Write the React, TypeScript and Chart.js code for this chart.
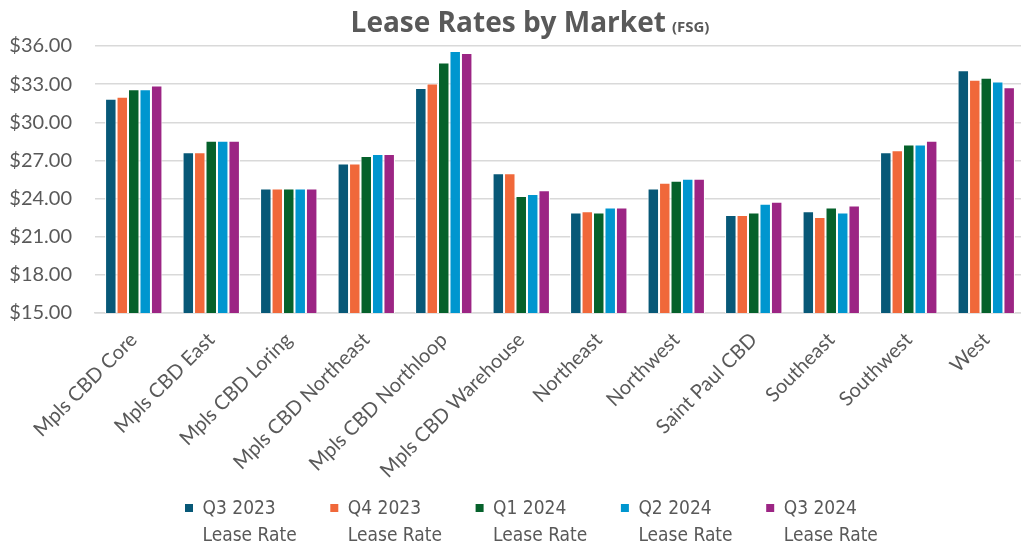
import React, { useEffect, useRef } from "react";
import { Chart, registerables } from "chart.js";

Chart.register(...registerables);

const categories = [
  "Mpls CBD Core",
  "Mpls CBD East",
  "Mpls CBD Loring",
  "Mpls CBD Northeast",
  "Mpls CBD Northloop",
  "Mpls CBD Warehouse",
  "Northeast",
  "Northwest",
  "Saint Paul CBD",
  "Southeast",
  "Southwest",
  "West",
];

const seriesNames = [
  ["Q3 2023", "Lease Rate"],
  ["Q4 2023", "Lease Rate"],
  ["Q1 2024", "Lease Rate"],
  ["Q2 2024", "Lease Rate"],
  ["Q3 2024", "Lease Rate"],
];

const q3_2023 = [31.85, 27.65, 24.8, 26.75, 32.7, 26.0, 22.9, 24.8, 22.7, 23.0, 27.65, 34.1];
const q4_2023 = [32.0, 27.65, 24.8, 26.75, 33.05, 26.0, 23.0, 25.25, 22.7, 22.55, 27.8, 33.35];
const q1_2024 = [32.6, 28.55, 24.8, 27.35, 34.7, 24.2, 22.9, 25.4, 22.9, 23.3, 28.25, 33.5];
const q2_2024 = [32.6, 28.55, 24.8, 27.5, 35.6, 24.35, 23.3, 25.55, 23.6, 22.9, 28.25, 33.2];
const q3_2024 = [32.9, 28.55, 24.8, 27.5, 35.45, 24.65, 23.3, 25.55, 23.75, 23.45, 28.55, 32.75];

const seriesValues = [q3_2023, q4_2023, q1_2024, q2_2024, q3_2024];
const seriesColors = ["#075877", "#F0683A", "#05612B", "#0096CF", "#9C2584"];

const yMin = 15;
const yMax = 36;
const yStep = 3;

const TEXT_COLOR = "#595959";
const FONT = "Lato, 'Liberation Sans', sans-serif";
const LEGEND_FONT = "19px 'DejaVu Sans Condensed', 'DejaVu Sans', sans-serif";

const titlePlugin = {
  id: "customTitle",
  afterDraw(chart: any) {
    const ctx = chart.ctx;
    ctx.save();
    const main = "Lease Rates by Market";
    const sub = "(FSG)";
    ctx.fillStyle = TEXT_COLOR;
    ctx.textBaseline = "alphabetic";
    ctx.textAlign = "left";
    ctx.font = "bold 28px 'Open Sans', sans-serif";
    const w1 = ctx.measureText(main).width;
    ctx.font = "bold 15px 'Open Sans', sans-serif";
    const w2 = ctx.measureText(sub).width;
    const gap = 6;
    const cx = 530;
    const x0 = cx - (w1 + gap + w2) / 2;
    ctx.font = "bold 28px 'Open Sans', sans-serif";
    ctx.fillText(main, x0, 32);
    ctx.font = "bold 15px 'Open Sans', sans-serif";
    ctx.fillText(sub, x0 + w1 + gap, 32);
    ctx.restore();
  },
};

const legendPlugin = {
  id: "customLegend",
  afterDraw(chart: any) {
    const ctx = chart.ctx;
    ctx.save();
    ctx.font = LEGEND_FONT;
    ctx.textAlign = "left";
    ctx.textBaseline = "alphabetic";
    const startX = 185;
    const step = 145.3;
    chart.data.datasets.forEach((ds: any, i: number) => {
      const bx = startX + i * step;
      ctx.fillStyle = ds.backgroundColor;
      ctx.fillRect(bx, 504, 8, 8);
      ctx.fillStyle = TEXT_COLOR;
      const lines = seriesNames[i];
      ctx.fillText(lines[0], bx + 17.5, 514);
      ctx.fillText(lines[1], bx + 17.5, 541);
    });
    ctx.restore();
  },
};

export default function App() {
  const canvasRef = useRef<HTMLCanvasElement | null>(null);

  useEffect(() => {
    const canvas = canvasRef.current;
    if (!canvas) return;
    const chart = new Chart(canvas, {
      type: "bar",
      data: {
        labels: categories,
        datasets: seriesValues.map((vals, i) => ({
          label: seriesNames[i].join(" "),
          data: vals,
          backgroundColor: seriesColors[i],
          borderColor: "#FFFFFF",
          borderWidth: 1,
          categoryPercentage: 0.74,
          barPercentage: 1.0,
        })),
      },
      options: {
        responsive: false,
        animation: false,
        layout: { padding: { top: 46, left: 0, right: 5, bottom: 0 } },
        plugins: {
          title: { display: false },
          tooltip: { enabled: false },
          legend: { display: false },
        },
        scales: {
          x: {
            grid: { display: false, drawTicks: false },
            border: { display: true, color: "#D9D9D9", width: 1.5 },
            ticks: {
              color: TEXT_COLOR,
              font: { family: FONT, size: 20 },
              maxRotation: 45,
              minRotation: 45,
              autoSkip: false,
              padding: 15,
            },
            afterFit: (scale: any) => {
              scale.height = 233;
            },
          },
          y: {
            min: yMin,
            max: yMax,
            grid: { color: "#D9D9D9", lineWidth: 1.5, drawTicks: false },
            border: { display: false },
            ticks: {
              stepSize: yStep,
              autoSkip: false,
              color: TEXT_COLOR,
              font: { family: FONT, size: 20 },
              padding: 23,
              callback: (v: any) => "$" + Number(v).toFixed(2),
            },
            afterFit: (scale: any) => {
              scale.width = 95;
            },
          },
        },
      },
      plugins: [titlePlugin, legendPlugin],
    });
    return () => chart.destroy();
  }, []);

  return (
    <div
      style={{
        position: "fixed",
        left: 0,
        top: 0,
        width: 1021,
        height: 546,
        overflow: "hidden",
        background: "#FFFFFF",
      }}
    >
      <canvas ref={canvasRef} width={1030} height={546} />
    </div>
  );
}
